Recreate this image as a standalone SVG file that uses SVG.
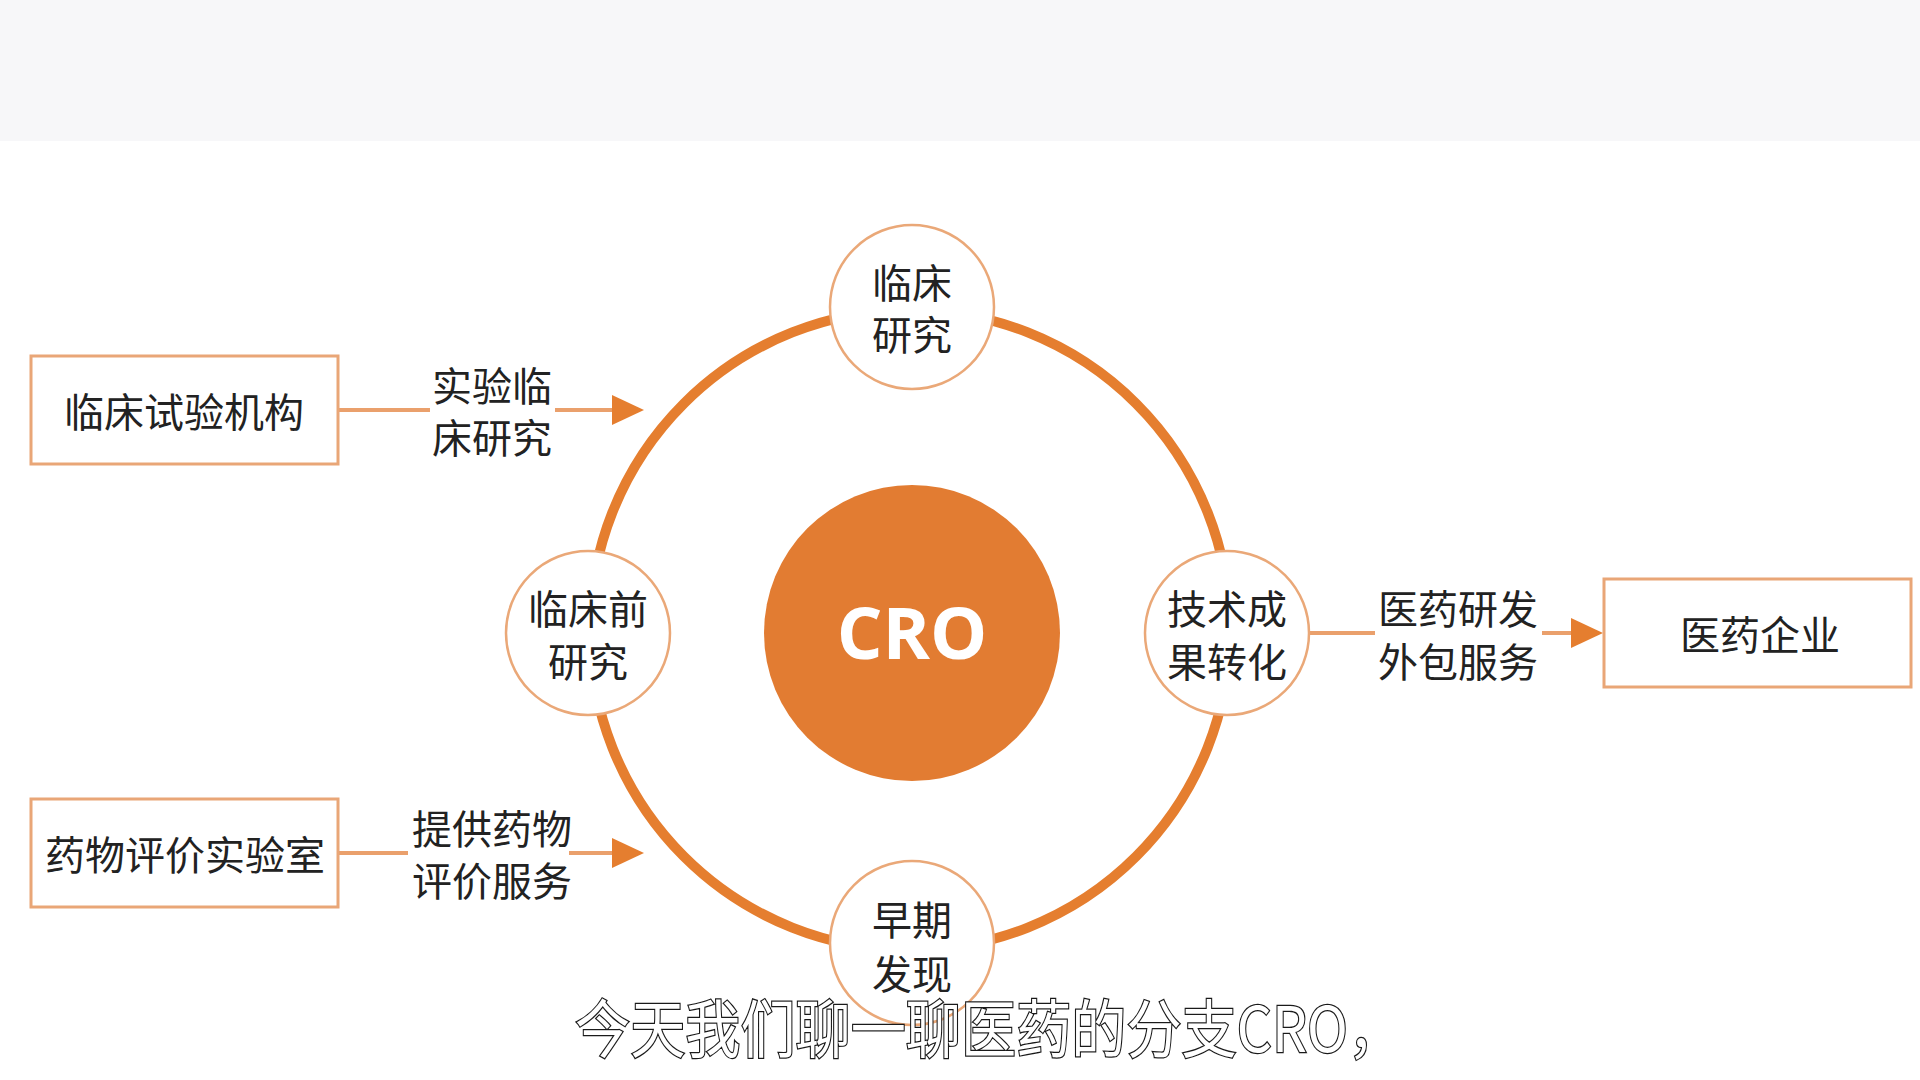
<svg xmlns="http://www.w3.org/2000/svg" width="1920" height="1080" viewBox="0 0 1920 1080">
  <defs>
    <style>
      .t{font-family:"Noto Sans CJK SC","Noto Sans",sans-serif;font-size:40px;fill:#222222;text-anchor:middle;dominant-baseline:central}
      .box{fill:#ffffff;stroke:#E9A677;stroke-width:3}
      .node{fill:#ffffff;stroke:#EAA878;stroke-width:2.5}
      .ln{stroke:#EAA06C;stroke-width:4;fill:none}
      .ah{fill:#E57E2F}
    </style>
  </defs>
  <rect x="0" y="0" width="1920" height="1080" fill="#ffffff"/>
  <rect x="0" y="0" width="1920" height="141" fill="#f7f7f9"/>

  <g id="connectors">
    <circle id="ring" cx="910" cy="630" r="320" fill="none" stroke="#E57E2F" stroke-width="10"/>
    <g id="arrow-clinical">
      <line class="ln" x1="338" y1="410" x2="430" y2="410"/>
      <line class="ln" x1="555" y1="410" x2="618" y2="410"/>
      <polygon class="ah" points="612,395 644,410 612,425"/>
      <text class="t"><tspan x="492" y="384">实验临</tspan><tspan x="492" y="436">床研究</tspan></text>
    </g>
    <g id="arrow-eval">
      <line class="ln" x1="338" y1="853" x2="408" y2="853"/>
      <line class="ln" x1="569" y1="853" x2="618" y2="853"/>
      <polygon class="ah" points="612,838 644,853 612,868"/>
      <text class="t"><tspan x="492" y="827">提供药物</tspan><tspan x="492" y="879">评价服务</tspan></text>
    </g>
    <g id="arrow-pharma">
      <line class="ln" x1="1309" y1="633" x2="1375" y2="633"/>
      <line class="ln" x1="1542" y1="633" x2="1578" y2="633"/>
      <polygon class="ah" points="1571,618 1603,633 1571,648"/>
      <text class="t"><tspan x="1458" y="607">医药研发</tspan><tspan x="1458" y="660">外包服务</tspan></text>
    </g>
  </g>

  <g id="node-cro">
    <circle cx="912" cy="633" r="148" fill="#E27C32"/>
    <text x="912" y="659" font-family="'Open Sans','Liberation Sans',sans-serif" font-weight="bold" font-size="72" fill="#ffffff" text-anchor="middle">CRO</text>
  </g>

  <g id="node-clinical">
    <circle class="node" cx="912" cy="307" r="82"/>
    <text class="t"><tspan x="912" y="281">临床</tspan><tspan x="912" y="333">研究</tspan></text>
  </g>
  <g id="node-preclinical">
    <circle class="node" cx="588" cy="633" r="82"/>
    <text class="t"><tspan x="588" y="607">临床前</tspan><tspan x="588" y="660">研究</tspan></text>
  </g>
  <g id="node-transfer">
    <circle class="node" cx="1227" cy="633" r="82"/>
    <text class="t"><tspan x="1227" y="607">技术成</tspan><tspan x="1227" y="660">果转化</tspan></text>
  </g>
  <g id="node-early">
    <circle class="node" cx="912" cy="943" r="82"/>
    <text class="t"><tspan x="912" y="918">早期</tspan><tspan x="912" y="972">发现</tspan></text>
  </g>

  <g id="node-trial-org">
    <rect class="box" x="31" y="356" width="307" height="108"/>
    <text class="t" x="184" y="410">临床试验机构</text>
  </g>
  <g id="node-eval-lab">
    <rect class="box" x="31" y="799" width="307" height="108"/>
    <text class="t" x="185" y="853">药物评价实验室</text>
  </g>
  <g id="node-pharma">
    <rect class="box" x="1604" y="579" width="307" height="108"/>
    <text class="t" x="1760" y="633">医药企业</text>
  </g>

  <text id="subtitle" x="575" y="1052" font-family="'Noto Sans CJK SC','Noto Sans',sans-serif" font-size="63" fill="#ffffff" stroke="#1a1a1a" stroke-width="2.5" paint-order="stroke" text-anchor="start" textLength="828" lengthAdjust="spacingAndGlyphs">今天我们聊一聊医药的分支CRO，</text>
</svg>
